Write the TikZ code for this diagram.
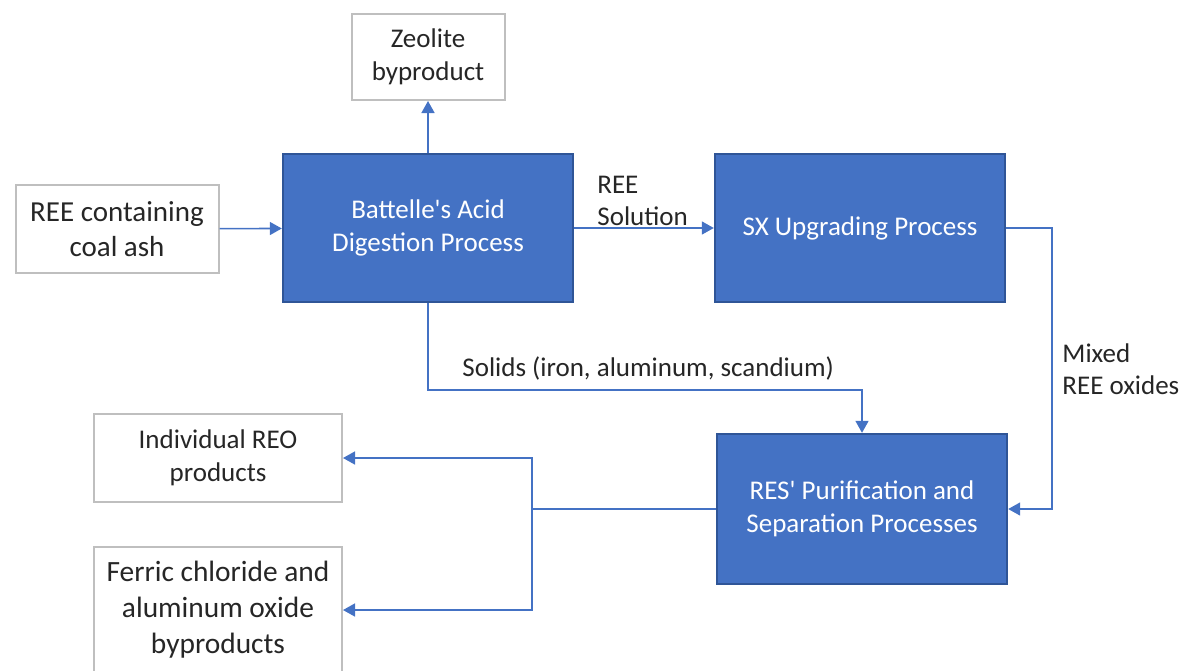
\documentclass[tikz,border=0pt]{standalone}
\usepackage{fontspec}
\setmainfont{Carlito}
\usetikzlibrary{arrows.meta, positioning}
\definecolor{boxblue}{HTML}{4472C4}
\definecolor{boxedge}{HTML}{2F5597}
\definecolor{greyedge}{HTML}{BFBFBF}

\begin{document}
\begin{tikzpicture}[
  x=0.5pt, y=-0.5pt,
  procbox/.style={draw=boxedge, line width=1.2pt, fill=boxblue, text=white,
    minimum width=145pt, minimum height=74pt, align=center,
    font=\fontsize{13.5}{16.5}\selectfont},
  prodbox/.style={draw=greyedge, line width=1pt, fill=white, align=center,
    text=black!85, font=\fontsize{13.5}{16.5}\selectfont},
  flow/.style={draw=boxblue, line width=0.8pt, -{Triangle[length=6pt,width=6.5pt]}},
  lbl/.style={align=left, inner sep=0pt, text=black!85,
    font=\fontsize{13.5}{16}\selectfont}
]
  \useasboundingbox (0,0) rectangle (1186,670);

  % process boxes
  \node (bat) [procbox] at (428,228) {Battelle\textquotesingle s Acid\\Digestion Process};
  \node (sx)  [procbox] at (860,228) {SX Upgrading Process};
  \node (res) [procbox, minimum height=75pt] at (862,509) {RES\textquotesingle\ Purification and\\Separation Processes};

  % inputs and products
  \node (zeo) [prodbox, minimum width=76.5pt, minimum height=43pt] at (428,57) {Zeolite\\byproduct};
  \node (ash) [prodbox, minimum width=101.5pt, minimum height=44pt,
    font=\fontsize{14.5}{17.5}\selectfont] at (117,229) {REE containing\\coal ash};
  \node (ind) [prodbox, minimum width=124pt, minimum height=44pt] at (218,458) {Individual REO\\products};
  \node (fer) [prodbox, minimum width=124pt, minimum height=63pt,
    font=\fontsize{14.7}{18}\selectfont] at (218,610) {Ferric chloride and\\aluminum oxide\\byproducts};

  % bends
  \coordinate (mixbend) at (1052,228);
  \coordinate (solbend) at (428,390);
  \coordinate (split) at (532,509);

  % connectors
  \draw[flow] (ash) -- (bat);
  \draw[flow] (bat) -- (zeo);
  \draw[flow] (bat) -- (sx);
  \draw[flow] (sx.east) -- (mixbend) |- (res.east);
  \draw[flow] (bat.south) -- (solbend) -| (res.north);
  \draw[draw=boxblue, line width=0.8pt] (res.west) -- (split);
  \draw[flow] (split) |- (ind.east);
  \draw[flow] (split) |- (fer.east);

  % labels
  \node (sollbl) [lbl, anchor=south west] at (597,226) {REE\\Solution};
  \node (mixlbl) [lbl, anchor=west] at (1062,369) {Mixed\\REE oxides};
  \node (solidlbl) [lbl, anchor=west] at (462,368) {Solids (iron, aluminum, scandium)};
\end{tikzpicture}
\end{document}
